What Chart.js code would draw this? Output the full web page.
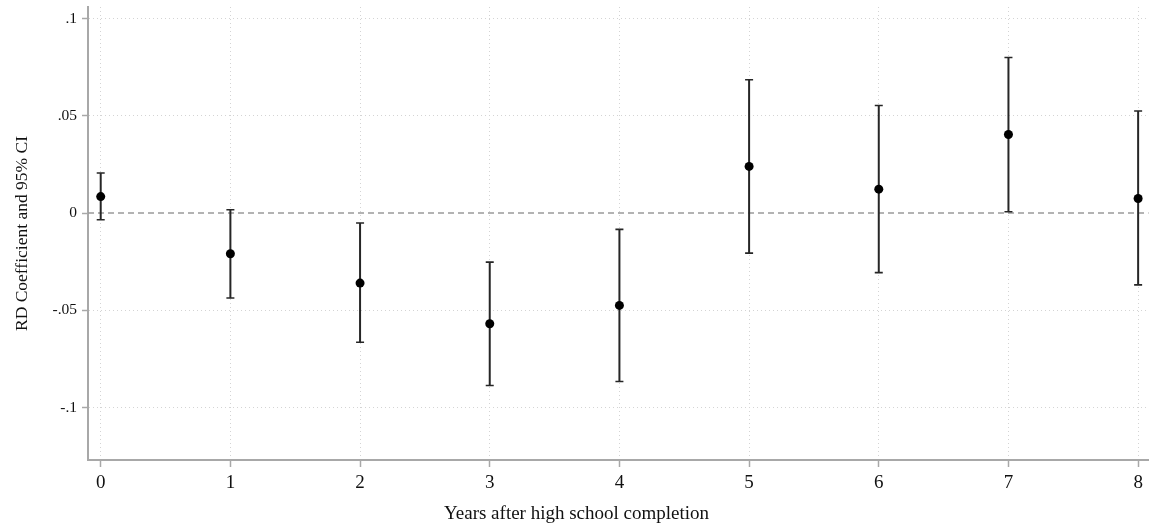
<!DOCTYPE html>
<html>
<head>
<meta charset="utf-8">
<script src="https://cdn.jsdelivr.net/npm/chart.js@4/dist/chart.umd.min.js"></script>
<style>
  html, body { margin: 0; padding: 0; background: #fff; }
  #wrap { width: 1153px; height: 527px; }
</style>
</head>
<body>
<div id="wrap"><canvas id="rdChart" width="1153" height="527"></canvas></div>
<script>
// ---- data ----
const years    = [0, 1, 2, 3, 4, 5, 6, 7, 8];
const coef     = [0.0085, -0.0209, -0.0360, -0.0569, -0.0475, 0.0240, 0.0123, 0.0404, 0.0075];
const ciLow    = [-0.0034, -0.0437, -0.0664, -0.0887, -0.0866, -0.0206, -0.0306, 0.0007, -0.0369];
const ciHigh   = [0.0206, 0.0017, -0.0051, -0.0252, -0.0084, 0.0686, 0.0553, 0.0800, 0.0525];
const yTicks      = [-0.1, -0.05, 0, 0.05, 0.1];
const yTickLabels = ['-.1', '-.05', '0', '.05', '.1'];
const xTitle = 'Years after high school completion';

const serif = "'Liberation Serif', 'DejaVu Serif', serif";

// error bars + dashed zero line, drawn with the chart's own scales
const ciPlugin = {
  id: 'ciBars',
  beforeDatasetsDraw(chart) {
    const { ctx, scales: { x, y }, chartArea } = chart;
    ctx.save();
    // zero reference line
    ctx.strokeStyle = '#9a9a9a';
    ctx.lineWidth = 1.5;
    ctx.setLineDash([6, 4]);
    const y0 = y.getPixelForValue(0);
    ctx.beginPath();
    ctx.moveTo(chartArea.left, y0);
    ctx.lineTo(chartArea.right, y0);
    ctx.stroke();
    ctx.setLineDash([]);

    // whiskers
    ctx.strokeStyle = '#262626';
    years.forEach(function(yr, i) {
      const px = x.getPixelForValue(yr);
      const top = y.getPixelForValue(ciHigh[i]);
      const bot = y.getPixelForValue(ciLow[i]);
      ctx.lineWidth = 2;
      ctx.beginPath();
      ctx.moveTo(px, top);
      ctx.lineTo(px, bot);
      ctx.stroke();
      ctx.lineWidth = 1.6;
      ctx.beginPath();
      ctx.moveTo(px - 4, top); ctx.lineTo(px + 4, top);
      ctx.moveTo(px - 4, bot); ctx.lineTo(px + 4, bot);
      ctx.stroke();
    });
    ctx.restore();
  },
  // x title sits centred on the whole figure, not on the plot area
  afterDraw(chart) {
    const c = chart.ctx;
    c.save();
    c.fillStyle = '#111';
    c.font = '19px ' + serif;
    c.textAlign = 'center';
    c.textBaseline = 'alphabetic';
    c.fillText(xTitle, chart.width / 2, 519);
    c.restore();
  }
};

const ctx = document.getElementById('rdChart').getContext('2d');

new Chart(ctx, {
  type: 'scatter',
  data: {
    datasets: [{
      label: 'RD coefficient',
      data: years.map(function(yr, i) { return { x: yr, y: coef[i] }; }),
      pointRadius: 4.5,
      pointBackgroundColor: '#000',
      pointBorderColor: '#000',
      pointBorderWidth: 0
    }]
  },
  options: {
    responsive: false,
    animation: false,
    layout: { padding: { top: 7, right: 2, left: 0, bottom: 0 } },
    plugins: {
      legend: { display: false },
      tooltip: { enabled: false }
    },
    scales: {
      x: {
        type: 'linear',
        min: -0.098,
        max: 8.08,
        afterBuildTicks: function(axis) {
          axis.ticks = years.map(function(v) { return { value: v }; });
        },
        afterFit: function(axis) {
          axis.height = 67;
          axis.paddingLeft = 0;
          axis.paddingRight = 0;
        },
        ticks: {
          color: '#111',
          font: { family: serif, size: 19 },
          padding: 5,
          maxRotation: 0,
          callback: function(v) { return String(v); }
        },
        grid: {
          color: '#d4d4d4',
          lineWidth: 1,
          tickColor: '#a8a8a8',
          tickLength: 7,
          tickBorderDash: [],
          tickWidth: 1.5
        },
        border: { display: true, color: '#a8a8a8', width: 2, dash: [1, 3] },
        title: { display: false }
      },
      y: {
        type: 'linear',
        min: -0.127,
        max: 0.106,
        afterBuildTicks: function(axis) {
          axis.ticks = yTicks.map(function(v) { return { value: v }; });
        },
        afterFit: function(axis) {
          axis.width = 88;
          axis.paddingTop = 0;
          axis.paddingBottom = 0;
        },
        ticks: {
          color: '#111',
          font: { family: serif, size: 15.5 },
          padding: 5,
          callback: function(v) {
            const k = yTicks.findIndex(function(t) { return Math.abs(t - v) < 1e-9; });
            return k >= 0 ? yTickLabels[k] : '';
          }
        },
        grid: {
          color: function(c) {
            return (c.tick && Math.abs(c.tick.value) < 1e-9) ? 'rgba(0,0,0,0)' : '#d4d4d4';
          },
          lineWidth: 1,
          tickColor: '#a8a8a8',
          tickLength: 6,
          tickBorderDash: [],
          tickWidth: 1.5
        },
        border: { display: true, color: '#a8a8a8', width: 2, dash: [1, 3] },
        title: {
          display: true,
          text: 'RD Coefficient and 95% CI',
          color: '#111',
          font: { family: serif, size: 17.5 },
          padding: { top: 12, bottom: 0 }
        }
      }
    }
  },
  plugins: [ciPlugin]
});
</script>
</body>
</html>
